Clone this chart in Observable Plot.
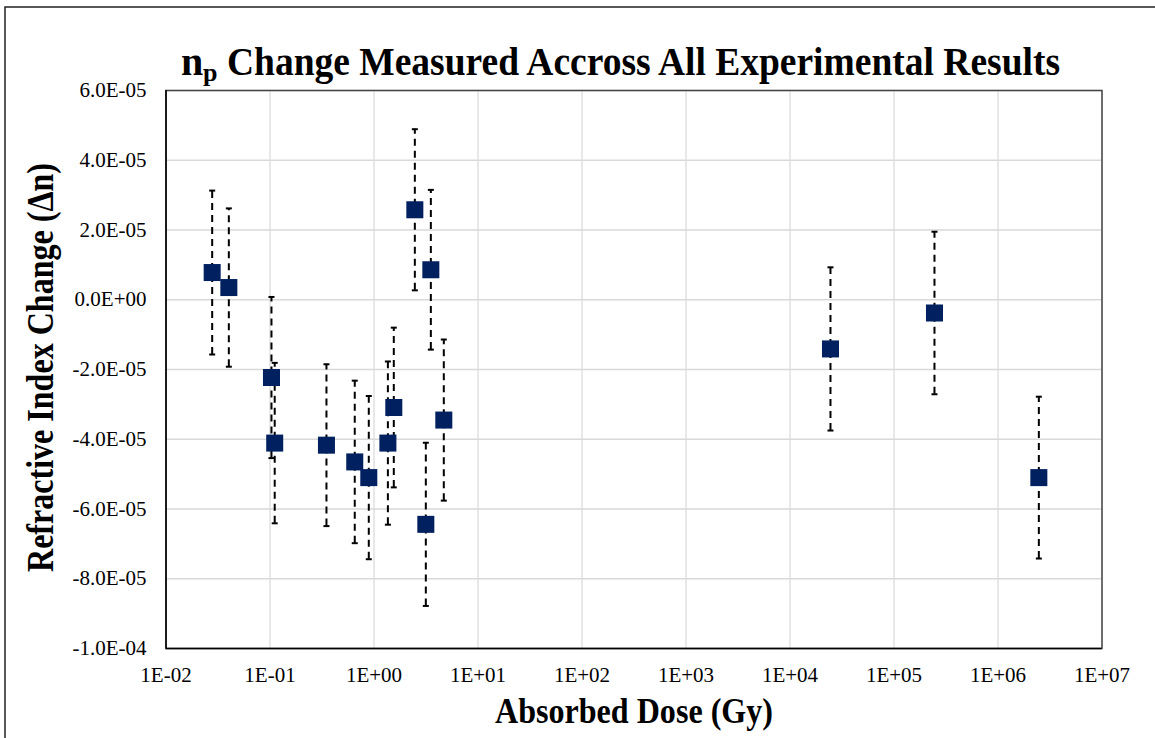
<!DOCTYPE html>
<html><head><meta charset="utf-8">
<script src="https://cdn.jsdelivr.net/npm/d3@7"></script>
<script src="https://cdn.jsdelivr.net/npm/@observablehq/plot@0.6"></script>
<style>html,body{margin:0;padding:0;background:#fff;} svg{display:block} svg text{font-family:'Liberation Serif','Times New Roman',Times,serif;}</style>
</head><body><div id="chart"></div>
<script>
// Absorbed dose (Gy)
const dose = [0.0278, 0.0402, 0.1033, 0.111, 0.349, 0.653, 0.891, 1.36, 1.55, 3.15, 2.47, 3.52, 4.69, 24500, 245000, 2470000];
// Refractive index change (Δn)
const deltaN = [7.8e-6, 3.5e-6, -2.23e-5, -4.11e-5, -4.17e-5, -4.65e-5, -5.10e-5, -4.11e-5, -3.09e-5, -6.44e-5, 2.58e-5, 8.6e-6, -3.45e-5, -1.41e-5, -3.8e-6, -5.10e-5];
// Error (±)
const errN = [2.35e-5, 2.27e-5, 2.31e-5, 2.30e-5, 2.32e-5, 2.33e-5, 2.34e-5, 2.34e-5, 2.29e-5, 2.34e-5, 2.31e-5, 2.29e-5, 2.31e-5, 2.34e-5, 2.33e-5, 2.32e-5];

const xTicks = [1e-2, 1e-1, 1e0, 1e1, 1e2, 1e3, 1e4, 1e5, 1e6, 1e7];
const xTickLabels = ["1E-02","1E-01","1E+00","1E+01","1E+02","1E+03","1E+04","1E+05","1E+06","1E+07"];
const yTicks = [6e-5, 4e-5, 2e-5, 0, -2e-5, -4e-5, -6e-5, -8e-5, -1e-4];
const yTickLabels = ["6.0E-05","4.0E-05","2.0E-05","0.0E+00","-2.0E-05","-4.0E-05","-6.0E-05","-8.0E-05","-1.0E-04"];

const titleMain = "n";
const titleSub = "p";
const titleRest = "Change Measured Accross All Experimental Results";
const xTitle = "Absorbed Dose (Gy)";
const yTitle = "Refractive Index Change (Δn)";

const data = dose.map((d, i) => ({dose: d, dn: deltaN[i], lo: deltaN[i] - errN[i], hi: deltaN[i] + errN[i]}));

const capSymbol = {draw(ctx, size) { const r = Math.sqrt(size / Math.PI); ctx.moveTo(-r, 0); ctx.lineTo(r, 0); }};
const font = "'Liberation Serif', 'Times New Roman', Times, serif";

const chart = Plot.plot({
  width: 1155, height: 738,
  marginLeft: 165.5, marginRight: 53.5, marginTop: 90, marginBottom: 90,
  style: {fontFamily: font, fontSize: "21px", color: "#000", background: "#fff", overflow: "visible"},
  x: {type: "log", domain: [1e-2, 1e7]},
  y: {domain: [-1e-4, 6e-5]},
  marks: [
    Plot.gridX(xTicks, {stroke: "#d9d9d9", strokeOpacity: 1, strokeWidth: 1.2}),
    Plot.gridY(yTicks, {stroke: "#d9d9d9", strokeOpacity: 1, strokeWidth: 1.5}),
    Plot.frame({stroke: "#444", strokeWidth: 1.5}),
    Plot.ruleX([1e-2], {stroke: "#000", strokeWidth: 1.5}),
    Plot.ruleY([-1e-4], {stroke: "#000", strokeWidth: 1.5}),
    Plot.axisX(xTicks, {tickSize: 0, tickPadding: 19, fontSize: 21, fontFamily: font, label: null,
      tickFormat: d => xTickLabels[xTicks.indexOf(d)]}),
    Plot.axisY(yTicks, {tickSize: 0, tickPadding: 19.5, fontSize: 21, fontFamily: font, label: null,
      tickFormat: d => yTickLabels[yTicks.indexOf(d)]}),
    Plot.ruleX(data, {x: "dose", y1: "lo", y2: "hi", stroke: "#000", strokeWidth: 2, strokeDasharray: "7,5"}),
    Plot.dot(data, {x: "dose", y: "hi", symbol: capSymbol, r: 3, stroke: "#000", strokeWidth: 2, fill: "none"}),
    Plot.dot(data, {x: "dose", y: "lo", symbol: capSymbol, r: 3, stroke: "#000", strokeWidth: 2, fill: "none"}),
    Plot.dot(data, {x: "dose", y: "dn", symbol: "square", r: 9.6, fill: "#002060", stroke: null})
  ]
});

const svg = d3.select(chart);
// outer chart border
svg.append("path").attr("d", "M5,738V7H1155").attr("fill", "none").attr("stroke", "#222").attr("stroke-width", 1.5);

const titleAttrs = sel => sel.attr("font-family", font).attr("font-weight", "bold").attr("fill", "#000");
svg.append("text").call(titleAttrs).attr("text-anchor", "start").attr("x", 181).attr("y", 75).attr("font-size", 40)
  .text(titleMain);
svg.append("text").call(titleAttrs).attr("text-anchor", "start").attr("x", 203).attr("y", 81).attr("font-size", 26)
  .text(titleSub);
svg.append("text").call(titleAttrs).attr("text-anchor", "start").attr("x", 227).attr("y", 75).attr("font-size", 40)
  .attr("textLength", 833).attr("lengthAdjust", "spacingAndGlyphs").text(titleRest);

svg.append("text").call(titleAttrs).attr("x", 634).attr("y", 723).attr("text-anchor", "middle")
  .attr("font-size", 36).attr("textLength", 278).attr("lengthAdjust", "spacingAndGlyphs").text(xTitle);

svg.append("text").call(titleAttrs).attr("transform", "translate(53,367.5) rotate(-90)").attr("text-anchor", "middle")
  .attr("font-size", 37).attr("textLength", 409).attr("lengthAdjust", "spacingAndGlyphs").text(yTitle);

document.getElementById("chart").appendChild(chart);
</script>
</body></html>
